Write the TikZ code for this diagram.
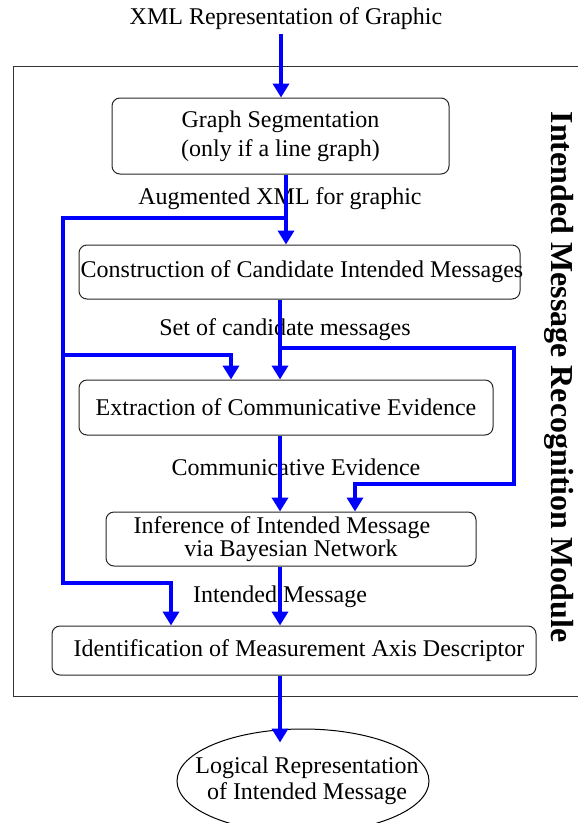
\documentclass[tikz,border=0pt]{standalone}
\usepackage{fontspec}
\setmainfont{Liberation Serif}
\usetikzlibrary{arrows.meta,shapes.geometric}
\definecolor{flowblue}{RGB}{0,0,255}
\begin{document}
\begin{tikzpicture}[x=1pt,y=-1pt,
  txt/.style={inner sep=0pt, font=\fontsize{24}{29}\selectfont},
  stage/.style={draw=black!85, line width=1pt, rounded corners=8pt, inner sep=0pt,
                align=center, font=\fontsize{24}{29}\selectfont},
  flow/.style={draw=flowblue, line width=4pt, -{Triangle[width=16pt,length=14pt]}},
]
\useasboundingbox (0,0) rectangle (578,823);
\clip (0,0) rectangle (578,823);

% module frame (runs past the right edge)
\draw[black!80, line width=1pt] (13,66) rectangle (600,696);
\node[rotate=-90, anchor=base, inner sep=0pt, font=\fontsize{32}{40}\selectfont\bfseries]
  (module) at (551,377) {Intended Message Recognition Module};

% input
\node[txt] (xml) at (286,19) {XML Representation of Graphic};

% processing stages
\node[stage, minimum width=337pt, minimum height=76pt] (seg) at (280.5,136)
  {Graph Segmentation\\(only if a line graph)};
\node[stage, minimum width=441pt, minimum height=54pt] (cand) at (299.5,272)
  {\makebox[441pt]{\hspace*{5pt}Construction of Candidate Intended Messages}};
\node[stage, minimum width=414pt, minimum height=55pt] (evid) at (286,407.5)
  {Extraction of Communicative Evidence};
\node[stage, minimum width=370pt, minimum height=54pt,
      font=\fontsize{24}{23}\selectfont] (infer) at (291,539)
  {Inference of Intended Message\hspace*{18pt}\\via Bayesian Network};
\node[stage, minimum width=484pt, minimum height=49pt] (axis) at (294,650.5)
  {\hspace*{10pt}Identification of Measurement Axis Descriptor};

% output
\node[ellipse, draw=black, line width=1pt, inner sep=0pt, minimum width=252pt,
      minimum height=104pt] (out) at (303,781) {};
\node[txt, align=center, font=\fontsize{24}{26}\selectfont] (outtxt) at (307,781)
  {Logical Representation\\of Intended Message};

% edge labels
\node[txt] (l1) at (280,199) {Augmented XML for graphic};
\node[txt] (l2) at (285,330) {Set of candidate messages};
\node[txt] (l3) at (296,467) {Communicative Evidence};
\node[txt] (l4) at (280,597) {Intended Message};

% bend points of the routed connectors
\coordinate (x1) at (281,0);
\coordinate (x2) at (286,0);
\coordinate (x3) at (280,0);
\coordinate (a1) at (286,218);
\coordinate (a2) at (63,218);
\coordinate (a3) at (63,583);
\coordinate (a4) at (171,583);
\coordinate (a5) at (63,355);
\coordinate (a6) at (231,355);
\coordinate (c1) at (280,348);
\coordinate (c2) at (514,348);
\coordinate (c3) at (514,484);
\coordinate (c4) at (355,484);

% main flow
\draw[flow] (xml.south -| x1) ++(0,4) -- (seg.north -| x1);
\draw[flow] (seg.south -| x2) -- (cand.north -| x2);
\draw[flow] (cand.south -| x3) -- (evid.north -| x3);
\draw[flow] (evid.south -| x3) -- (infer.north -| x3);
\draw[flow] (infer.south -| x3) -- (axis.north -| x3);
\draw[flow] (axis.south -| x3) -- ([yshift=-14pt]out.north -| x3);

% side channels
\draw[flow] (a1) -- (a2) -- (a3) -- (a4) -- (axis.north -| a4);
\draw[flow] (a5) -- (a6) -- (evid.north -| a6);
\draw[flow] (c1) -- (c2) -- (c3) -- (c4) -- (infer.north -| c4);
\end{tikzpicture}
\end{document}
